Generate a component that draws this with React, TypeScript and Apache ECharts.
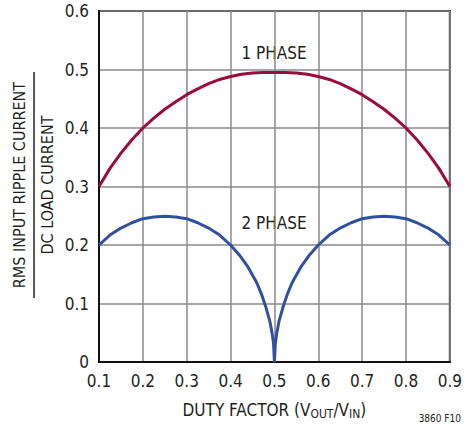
import React, { useEffect, useRef } from "react";
import * as echarts from "echarts";

const duty = [0.1, 0.125, 0.15, 0.175, 0.2, 0.225, 0.25, 0.275, 0.3, 0.325, 0.35, 0.375, 0.4, 0.425, 0.45, 0.475, 0.5,
  0.525, 0.55, 0.575, 0.6, 0.625, 0.65, 0.675, 0.7, 0.725, 0.75, 0.775, 0.8, 0.825, 0.85, 0.875, 0.9];
const onePhase = [0.300, 0.331, 0.357, 0.380, 0.400, 0.417, 0.432, 0.445, 0.457, 0.467, 0.476, 0.483, 0.488, 0.492, 0.494, 0.495, 0.495,
  0.495, 0.494, 0.492, 0.488, 0.483, 0.476, 0.467, 0.457, 0.445, 0.432, 0.417, 0.400, 0.380, 0.357, 0.331, 0.300];

const dutyTwo = [0.1, 0.125, 0.15, 0.175, 0.2, 0.225, 0.25, 0.275, 0.3, 0.325, 0.35, 0.375, 0.4, 0.42, 0.44, 0.46, 0.47, 0.48, 0.49, 0.495, 0.498, 0.5,
  0.502, 0.505, 0.51, 0.52, 0.53, 0.54, 0.56, 0.58, 0.6, 0.625, 0.65, 0.675, 0.7, 0.725, 0.75, 0.775, 0.8, 0.825, 0.85, 0.875, 0.9];
const twoPhase = [0.200, 0.217, 0.229, 0.238, 0.245, 0.248, 0.249, 0.248, 0.245, 0.238, 0.229, 0.217, 0.200, 0.183, 0.162, 0.135, 0.117, 0.095, 0.068, 0.048, 0.031, 0.0,
  0.031, 0.048, 0.068, 0.095, 0.117, 0.135, 0.162, 0.183, 0.200, 0.217, 0.229, 0.238, 0.245, 0.248, 0.249, 0.248, 0.245, 0.238, 0.229, 0.217, 0.200];

const xTicks = [0.1, 0.9, 0.1]; // min, max, interval
const yTicks = [0, 0.6, 0.1];

const FONT = "'DejaVu Sans Condensed', 'Liberation Sans Narrow', Arial, sans-serif";
const TXT = "#231f20";

export default function App() {
  const ref = useRef<HTMLDivElement>(null);
  useEffect(() => {
    const chart = echarts.init(ref.current!, undefined, { renderer: "svg" });
    chart.setOption({
      animation: false,
      textStyle: { fontFamily: FONT },
      grid: { left: 99, top: 11, right: 14, bottom: 62, show: true, borderColor: "#111", borderWidth: 2, backgroundColor: "transparent" },
      xAxis: {
        type: "value", min: xTicks[0], max: xTicks[1], interval: xTicks[2],
        axisLine: { show: true, lineStyle: { color: "#111", width: 2 } },
        axisTick: { show: false },
        splitLine: { show: true, lineStyle: { color: "#8a8a8a", width: 1.5 } },
        axisLabel: { color: TXT, fontSize: 17, fontFamily: FONT, margin: 10, formatter: (v: number) => v.toFixed(1) },
        name: "{a|DUTY FACTOR (V}{s|OUT}{a|/V}{s|IN}{a|)}",
        nameLocation: "middle", nameGap: 38,
        nameTextStyle: {
          rich: {
            a: { fontSize: 17, color: TXT, fontFamily: FONT },
            s: { fontSize: 12, color: TXT, fontFamily: FONT, verticalAlign: "bottom", padding: [8, 0, 0, 0] },
          },
        },
      },
      yAxis: {
        type: "value", min: yTicks[0], max: yTicks[1], interval: yTicks[2],
        axisLine: { show: true, lineStyle: { color: "#111", width: 2 } },
        axisTick: { show: false },
        splitLine: { show: true, lineStyle: { color: "#8a8a8a", width: 1.5 } },
        axisLabel: { color: TXT, fontSize: 17, fontFamily: FONT, margin: 10, formatter: (v: number) => (v === 0 ? "0" : v.toFixed(1)) },
      },
      graphic: [
        { type: "text", x: 19, y: 185, rotation: Math.PI / 2, style: { text: "RMS INPUT RIPPLE CURRENT", fill: TXT, font: `16px ${FONT}`, align: "center", verticalAlign: "middle" } },
        { type: "line", shape: { x1: 34, y1: 72, x2: 34, y2: 298 }, style: { stroke: TXT, lineWidth: 1.5 } },
        { type: "text", x: 47, y: 185, rotation: Math.PI / 2, style: { text: "DC LOAD CURRENT", fill: TXT, font: `16px ${FONT}`, align: "center", verticalAlign: "middle" } },
        { type: "text", x: 274, y: 53, style: { text: "1 PHASE", fill: TXT, font: `17px ${FONT}`, align: "center", verticalAlign: "middle" } },
        { type: "text", x: 274, y: 223, style: { text: "2 PHASE", fill: TXT, font: `17px ${FONT}`, align: "center", verticalAlign: "middle" } },
        { type: "text", x: 461, y: 418, style: { text: "3860 F10", fill: TXT, font: `10px ${FONT}`, align: "right", verticalAlign: "middle" } },
      ],
      series: [
        { type: "line", data: duty.map((d, i) => [d, onePhase[i]]), showSymbol: false, lineStyle: { color: "#9b0b3b", width: 3 }, z: 3 },
        { type: "line", data: dutyTwo.map((d, i) => [d, twoPhase[i]]), showSymbol: false, lineStyle: { color: "#3150a0", width: 3 }, z: 3 },
      ],
    });
    return () => chart.dispose();
  }, []);
  return <div ref={ref} style={{ width: 465, height: 425, position: "absolute", left: 0, top: 0, background: "#fff" }} />;
}
